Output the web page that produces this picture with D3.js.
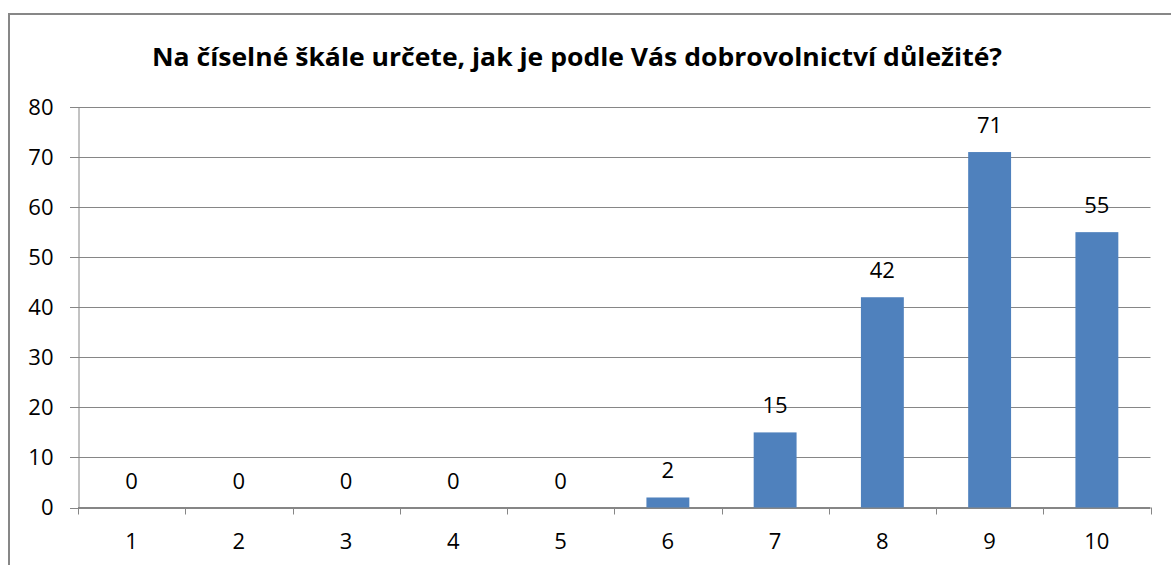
<!DOCTYPE html>
<html>
<head>
<meta charset="utf-8">
<script src="https://cdn.jsdelivr.net/npm/d3@7"></script>
<style>
  body { margin: 0; background: #fff; }
  text { font-family: "Open Sans", Lato, sans-serif; fill: #000; }
</style>
</head>
<body>
<svg id="chart" width="1171" height="565"></svg>
<script>
var categories = ["1", "2", "3", "4", "5", "6", "7", "8", "9", "10"];
var values = [0, 0, 0, 0, 0, 2, 15, 42, 71, 55];
var yTicks = [0, 10, 20, 30, 40, 50, 60, 70, 80];
var title = "Na číselné škále určete, jak je podle Vás dobrovolnictví důležité?";

var svg = d3.select("#chart"),
    WIDTH = 1171, HEIGHT = 565,
    MARGINS = { top: 107, right: 20, bottom: 57, left: 78 };

// outer frame, runs off the right and bottom edge
svg.append("rect")
   .attr("x", 9).attr("y", 14)
   .attr("width", 1200).attr("height", 600)
   .attr("fill", "#fff")
   .attr("stroke", "#878787")
   .attr("stroke-width", 2);

var xScale = d3.scaleBand().domain(categories)
                .range([MARGINS.left, 1150.5])
                .paddingInner(0.6).paddingOuter(0.3);
var yScale = d3.scaleLinear().domain([0, 80])
                .range([507.5, MARGINS.top]);

// gridlines
svg.append("g")
   .selectAll("line")
   .data(yTicks)
   .enter().append("line")
   .attr("x1", 70).attr("x2", 1150.5)
   .attr("y1", function(d) { return Math.round(yScale(d)) + 0.5; })
   .attr("y2", function(d) { return Math.round(yScale(d)) + 0.5; })
   .attr("stroke", "#868686")
   .attr("stroke-width", 1);

// y axis
var yAxis = d3.axisLeft(yScale).tickValues(yTicks).tickSize(0).tickPadding(25);
var yg = svg.append("g")
   .attr("transform", "translate(" + (MARGINS.left + 0.5) + ",0)")
   .call(yAxis);
yg.select(".domain").attr("stroke", "#868686");
yg.selectAll("text").style("font-size", "22px").style("font-family", null).attr("fill", "#000");

// x axis with ticks between categories
var step = xScale.step();
var xg = svg.append("g").attr("transform", "translate(0," + 507.5 + ")");
xg.append("line")
  .attr("x1", MARGINS.left).attr("x2", 1150.5)
  .attr("stroke", "#868686");
xg.selectAll(".tick")
  .data(d3.range(categories.length + 1))
  .enter().append("line")
  .attr("x1", function(i) { return Math.round(MARGINS.left + i * step) + 0.5; })
  .attr("x2", function(i) { return Math.round(MARGINS.left + i * step) + 0.5; })
  .attr("y1", 0).attr("y2", 7)
  .attr("stroke", "#868686");
xg.selectAll(".lbl")
  .data(categories)
  .enter().append("text")
  .attr("x", function(d) { return xScale(d) + xScale.bandwidth() / 2; })
  .attr("y", 41)
  .attr("text-anchor", "middle")
  .style("font-size", "22px")
  .text(function(d) { return d; });

// bars
svg.selectAll(".bar")
   .data(values)
   .enter().append("rect")
   .attr("x", function(d, i) { return xScale(categories[i]); })
   .attr("y", function(d) { return yScale(d); })
   .attr("width", xScale.bandwidth())
   .attr("height", function(d) { return yScale(0) - yScale(d); })
   .attr("fill", "#4f81bd");

// value labels
svg.selectAll(".val")
   .data(values)
   .enter().append("text")
   .attr("x", function(d, i) { return xScale(categories[i]) + xScale.bandwidth() / 2; })
   .attr("y", function(d) { return yScale(d) - 19; })
   .attr("text-anchor", "middle")
   .style("font-size", "22px")
   .text(function(d) { return d; });

svg.append("text")
   .attr("x", 577).attr("y", 66)
   .attr("text-anchor", "middle")
   .attr("textLength", 850)
   .attr("lengthAdjust", "spacingAndGlyphs")
   .style("font-size", "25px")
   .style("font-weight", "bold")
   .text(title);
</script>
</body>
</html>
